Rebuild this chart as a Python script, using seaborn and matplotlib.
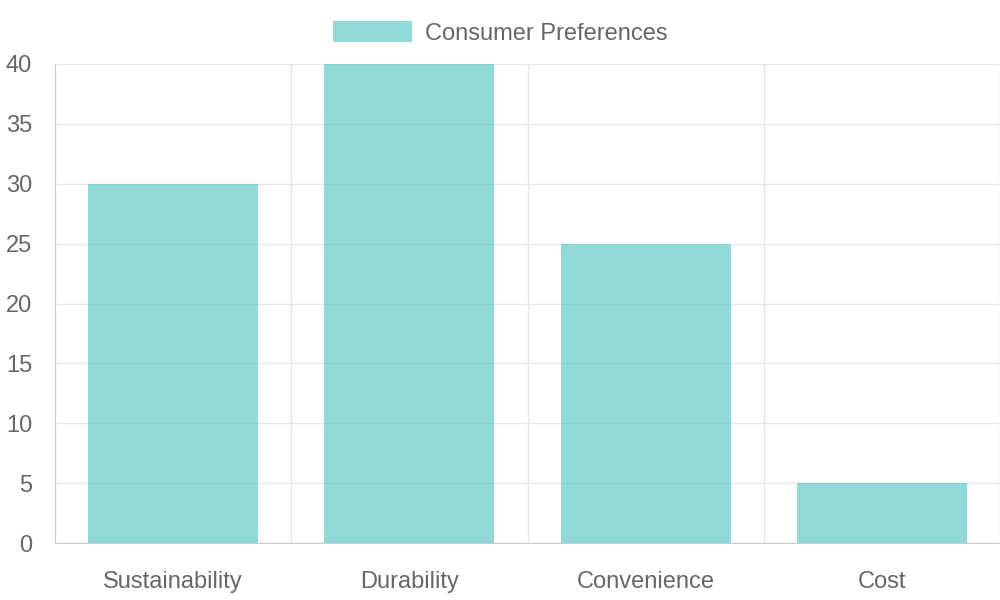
import matplotlib
matplotlib.use("Agg")
import matplotlib.pyplot as plt
import seaborn as sns
import pandas as pd
from matplotlib.patches import Patch

# data
categories = ["Sustainability", "Durability", "Convenience", "Cost"]
values = [30, 40, 25, 5]
series_name = "Consumer Preferences"
y_ticks = [0, 5, 10, 15, 20, 25, 30, 35, 40]

df = pd.DataFrame({"category": categories, "value": values})

sns.set_style("white")
plt.rcParams["font.family"] = ["Liberation Sans", "DejaVu Sans"]

bar_color = (75 / 255, 192 / 255, 192 / 255, 0.6)
grid_color = "#e6e6e6"
text_color = "#666666"
fsize = 17

fig = plt.figure(figsize=(10, 6), dpi=100)
ax = fig.add_axes([0.055, 0.095, 0.945, 1 - 0.095 - 64 / 600])

sns.barplot(data=df, x="category", y="value", color=bar_color, width=0.72,
            saturation=1, ax=ax, zorder=2)
for p in ax.patches:
    p.set_facecolor(bar_color)
    p.set_edgecolor("none")

ax.set_xlim(-0.5, len(categories) - 0.5)
ax.set_ylim(0, 40)
ax.set_yticks(y_ticks)
ax.set_xlabel("")
ax.set_ylabel("")

# category boundary grid (chart.js style)
ax.set_xticks([i - 0.5 for i in range(len(categories) + 1)], minor=True)
ax.grid(True, axis="x", which="minor", color=grid_color, linewidth=1, zorder=0)
ax.grid(True, axis="y", which="major", color=grid_color, linewidth=1, zorder=0)
ax.set_axisbelow(True)

ax.tick_params(axis="x", which="major", length=0, pad=20, labelsize=fsize, labelcolor=text_color)
ax.tick_params(axis="x", which="minor", length=11, color=grid_color, width=1)
ax.tick_params(axis="y", length=12, color=grid_color, width=1, pad=4.5,
               labelsize=fsize, labelcolor=text_color)

for s in ["top", "right"]:
    ax.spines[s].set_visible(False)
ax.spines["left"].set_color("#cccccc")
ax.spines["bottom"].set_color("#cccccc")

handle = Patch(facecolor=bar_color, edgecolor="none")
fig.legend([handle], [series_name], loc="center", bbox_to_anchor=(0.5, 1 - 33 / 600),
           frameon=False, fontsize=fsize, labelcolor=text_color,
           handlelength=3.35, handleheight=1.0, handletextpad=0.55)

fig.savefig("out.png", dpi=100)
